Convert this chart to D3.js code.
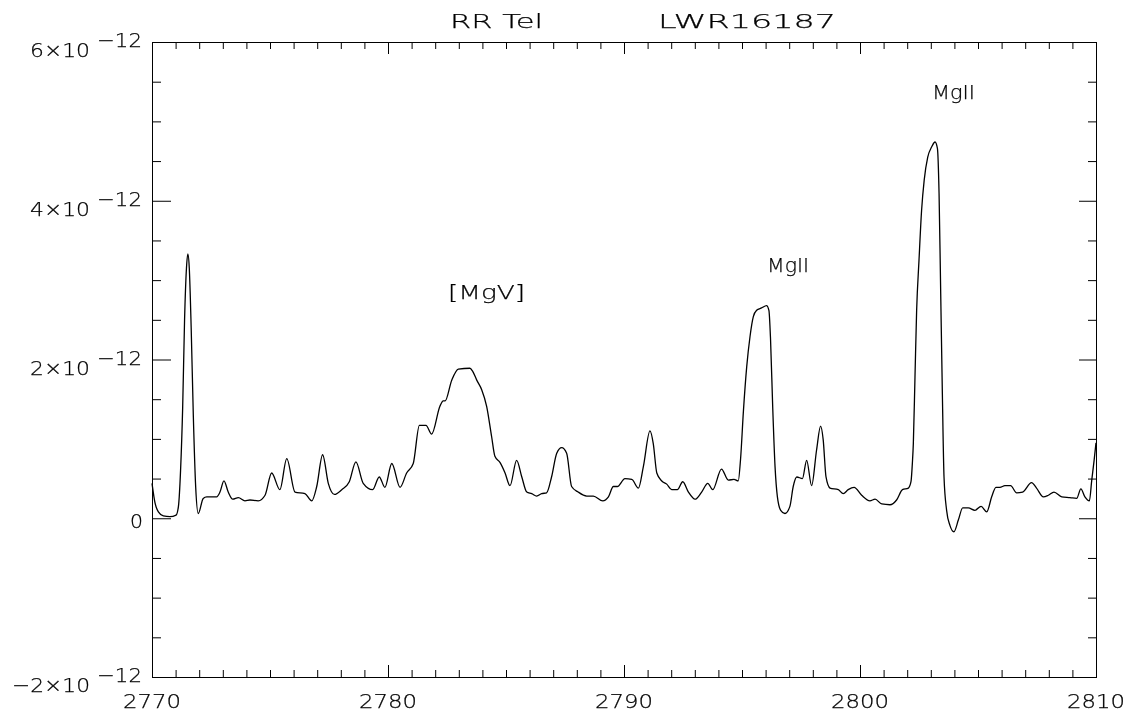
<!DOCTYPE html>
<html>
<head>
<meta charset="utf-8">
<script src="https://cdn.jsdelivr.net/npm/d3@7"></script>
<style>
  html, body { margin: 0; padding: 0; background: #fff; }
  svg { display: block; will-change: transform; }
  text { font-family: "DejaVu Sans", "Liberation Sans", sans-serif; font-weight: 200; fill: #000; stroke: #000; stroke-width: 0.25; }
</style>
</head>
<body>
<svg id="chart" width="1134" height="717"></svg>
<script>
// ---- Data (wavelength in Å, flux in units of 1e-12) ----
const UNIT = 1e-12;
const wavelength = [
  2770.00, 2770.13, 2770.27, 2770.48, 2770.76, 2771.02, 2771.12, 2771.21, 2771.30, 2771.38,
  2771.46, 2771.52, 2771.58, 2771.66, 2771.75, 2771.85, 2771.96, 2772.17, 2772.32, 2772.74,
  2772.88, 2773.05, 2773.23, 2773.42, 2773.66, 2773.94, 2774.15, 2774.50, 2774.79, 2775.07,
  2775.42, 2775.71, 2776.06, 2776.48, 2776.77, 2776.98, 2777.23, 2777.47, 2777.73, 2778.04,
  2778.36, 2778.64, 2778.95, 2779.35, 2779.63, 2779.87, 2780.16, 2780.51, 2780.79, 2781.07,
  2781.33, 2781.61, 2781.85, 2782.20, 2782.34, 2782.42, 2782.70, 2782.98, 2783.47, 2783.59,
  2783.76, 2783.97, 2784.18, 2784.39, 2784.53, 2784.75, 2784.96, 2785.17, 2785.45, 2785.67,
  2785.88, 2786.09, 2786.30, 2786.51, 2786.72, 2786.93, 2787.15, 2787.36, 2787.57, 2787.78,
  2788.06, 2788.42, 2788.70, 2789.10, 2789.34, 2789.55, 2789.72, 2790.04, 2790.33, 2790.61,
  2790.82, 2791.10, 2791.24, 2791.39, 2791.60, 2791.81, 2792.02, 2792.26, 2792.49, 2792.73,
  2793.01, 2793.29, 2793.55, 2793.76, 2794.13, 2794.42, 2794.66, 2794.84, 2794.94, 2795.06,
  2795.20, 2795.34, 2795.48, 2795.62, 2795.83, 2796.04, 2796.14, 2796.21, 2796.30, 2796.40,
  2796.50, 2796.64, 2796.82, 2797.03, 2797.17, 2797.32, 2797.56, 2797.74, 2797.95, 2798.16,
  2798.33, 2798.44, 2798.56, 2798.73, 2799.08, 2799.29, 2799.50, 2799.75, 2800.07, 2800.42,
  2800.64, 2800.92, 2801.27, 2801.55, 2801.80, 2802.05, 2802.16, 2802.22, 2802.26, 2802.33,
  2802.40, 2802.50, 2802.61, 2802.72, 2802.87, 2803.04, 2803.18, 2803.28, 2803.35, 2803.42,
  2803.49, 2803.56, 2803.67, 2803.81, 2803.98, 2804.17, 2804.35, 2804.59, 2804.87, 2805.13,
  2805.37, 2805.58, 2805.76, 2805.93, 2806.14, 2806.38, 2806.64, 2806.89, 2807.27, 2807.48,
  2807.77, 2807.98, 2808.22, 2808.55, 2808.90, 2809.18, 2809.36, 2809.53, 2809.72, 2809.82,
  2809.92, 2810.00
];
const flux = [
  0.44, 0.19, 0.08, 0.03, 0.02, 0.04, 0.15, 0.60, 1.40, 2.50,
  3.15, 3.33, 3.15, 2.40, 1.30, 0.40, 0.06, 0.25, 0.27, 0.27,
  0.33, 0.47, 0.33, 0.24, 0.26, 0.22, 0.23, 0.22, 0.29, 0.57,
  0.36, 0.75, 0.33, 0.31, 0.22, 0.40, 0.80, 0.44, 0.30, 0.36,
  0.46, 0.71, 0.44, 0.36, 0.52, 0.39, 0.69, 0.39, 0.57, 0.69,
  1.17, 1.17, 1.06, 1.41, 1.48, 1.48, 1.74, 1.88, 1.89, 1.85,
  1.74, 1.62, 1.41, 1.03, 0.78, 0.70, 0.57, 0.41, 0.73, 0.52,
  0.33, 0.31, 0.28, 0.31, 0.32, 0.52, 0.82, 0.89, 0.82, 0.40,
  0.33, 0.28, 0.28, 0.22, 0.27, 0.40, 0.40, 0.50, 0.49, 0.38,
  0.65, 1.10, 0.94, 0.57, 0.47, 0.43, 0.36, 0.36, 0.46, 0.33,
  0.24, 0.33, 0.44, 0.36, 0.62, 0.48, 0.49, 0.47, 0.75, 1.35,
  1.91, 2.29, 2.54, 2.62, 2.65, 2.68, 2.62, 2.25, 1.41, 0.65,
  0.27, 0.10, 0.06, 0.15, 0.40, 0.52, 0.50, 0.73, 0.41, 0.86,
  1.16, 0.99, 0.52, 0.38, 0.36, 0.31, 0.36, 0.39, 0.29, 0.22,
  0.24, 0.18, 0.17, 0.23, 0.36, 0.38, 0.46, 0.70, 0.94, 1.78,
  2.62, 3.25, 3.88, 4.26, 4.55, 4.68, 4.74, 4.66, 4.09, 2.83,
  1.57, 0.52, 0.10, -0.09, -0.17, -0.02, 0.13, 0.13, 0.10, 0.15,
  0.08, 0.27, 0.39, 0.39, 0.41, 0.41, 0.32, 0.33, 0.45, 0.38,
  0.27, 0.29, 0.33, 0.27, 0.26, 0.25, 0.37, 0.27, 0.22, 0.48,
  0.73, 0.95
];
const xMajorTicks = [2770, 2780, 2790, 2800, 2810];
const xTickLabels = ["2770", "2780", "2790", "2800", "2810"];
const yMajorTicks = [-2, 0, 2, 4, 6];
const yTickMantissa = ["\u22122\u00d710", "0", "2\u00d710", "4\u00d710", "6\u00d710"];
const yTickExponent = ["\u221212", "", "\u221212", "\u221212", "\u221212"];
const titleParts = ["RR Tel", "LWR16187"];
const lineLabels = [
  { text: "[MgV]", wl: 2782.54, f: 2.76 },
  { text: "MgII", wl: 2796.06, f: 3.10 },
  { text: "MgII", wl: 2803.05, f: 5.28 }
];

// ---- Layout ----
const svg = d3.select("#chart");
const L = 152, R = 1096, T = 42, B = 677;
const x = d3.scaleLinear().domain([2770, 2810]).range([L, R]);
const y = d3.scaleLinear().domain([-2 * UNIT, 6 * UNIT]).range([B, T]);

const xMinor = d3.range(2770, 2811, 1).filter(v => v % 10 !== 0);
const yMinor = d3.range(-2, 6.01, 0.5).filter(v => Math.abs(v % 2) > 1e-9);

function styleAxis(g) {
  g.select(".domain").remove();
  g.selectAll(".tick line").attr("stroke", "#000").attr("stroke-width", 1);
  g.selectAll(".tick text").remove();
}

// bottom (ticks inward)
svg.append("g").attr("transform", `translate(0,${B})`)
  .call(d3.axisTop(x).tickValues(xMinor).tickSize(7)).call(styleAxis);
svg.append("g").attr("transform", `translate(0,${B})`)
  .call(d3.axisTop(x).tickValues(xMajorTicks).tickSize(12)).call(styleAxis);
// top
svg.append("g").attr("transform", `translate(0,${T})`)
  .call(d3.axisBottom(x).tickValues(xMinor).tickSize(7)).call(styleAxis);
svg.append("g").attr("transform", `translate(0,${T})`)
  .call(d3.axisBottom(x).tickValues(xMajorTicks).tickSize(12)).call(styleAxis);
// left
svg.append("g").attr("transform", `translate(${L},0)`)
  .call(d3.axisRight(y).tickValues(yMinor.map(v => v * UNIT)).tickSize(9)).call(styleAxis);
svg.append("g").attr("transform", `translate(${L},0)`)
  .call(d3.axisRight(y).tickValues(yMajorTicks.map(v => v * UNIT)).tickSize(19)).call(styleAxis);
// right
svg.append("g").attr("transform", `translate(${R},0)`)
  .call(d3.axisLeft(y).tickValues(yMinor.map(v => v * UNIT)).tickSize(8)).call(styleAxis);
svg.append("g").attr("transform", `translate(${R},0)`)
  .call(d3.axisLeft(y).tickValues(yMajorTicks.map(v => v * UNIT)).tickSize(17)).call(styleAxis);

// frame
svg.append("rect")
  .attr("x", L + 0.5).attr("y", T + 0.5)
  .attr("width", R - L).attr("height", B - T)
  .attr("fill", "none").attr("stroke", "#000").attr("stroke-width", 1);

function stretchText(g, str, x0, yb, width, anchor) {
  return g.append("text")
    .attr("x", x0).attr("y", yb)
    .attr("text-anchor", anchor || "start")
    .attr("font-size", 20)
    .attr("textLength", width).attr("lengthAdjust", "spacingAndGlyphs")
    .text(str);
}

// x tick labels
const gx = svg.append("g");
xMajorTicks.forEach((v, i) => stretchText(gx, xTickLabels[i], x(v), 708, 58, "middle"));

// y tick labels
const gy = svg.append("g");
yMajorTicks.forEach((v, i) => {
  const ty = y(v * UNIT);
  if (yTickExponent[i]) {
    const w = yTickMantissa[i].length === 5 ? 78 : 60;
    stretchText(gy, yTickMantissa[i], 90, ty + 15, w, "end");
    stretchText(gy, yTickExponent[i], 97, ty + 5, 45, "start");
  } else {
    stretchText(gy, yTickMantissa[i], 143, ty + 10, 13, "end");
  }
});

// title
const gt = svg.append("g");
stretchText(gt, titleParts[0], 450, 28, 93);
stretchText(gt, titleParts[1], 658, 28, 178);

// line labels
const gl = svg.append("g");
const labelWidths = [77, 42, 43];
lineLabels.forEach((d, i) => stretchText(gl, d.text, x(d.wl), y(d.f * UNIT), labelWidths[i]));

// spectrum
const pts = wavelength.map((w, i) => [w, flux[i] * UNIT]);
const line = d3.line().x(d => x(d[0])).y(d => y(d[1])).curve(d3.curveMonotoneX);
svg.append("path").datum(pts)
  .attr("d", line)
  .attr("fill", "none").attr("stroke", "#000").attr("stroke-width", 1.3)
  .attr("stroke-linejoin", "round");
</script>
</body>
</html>
